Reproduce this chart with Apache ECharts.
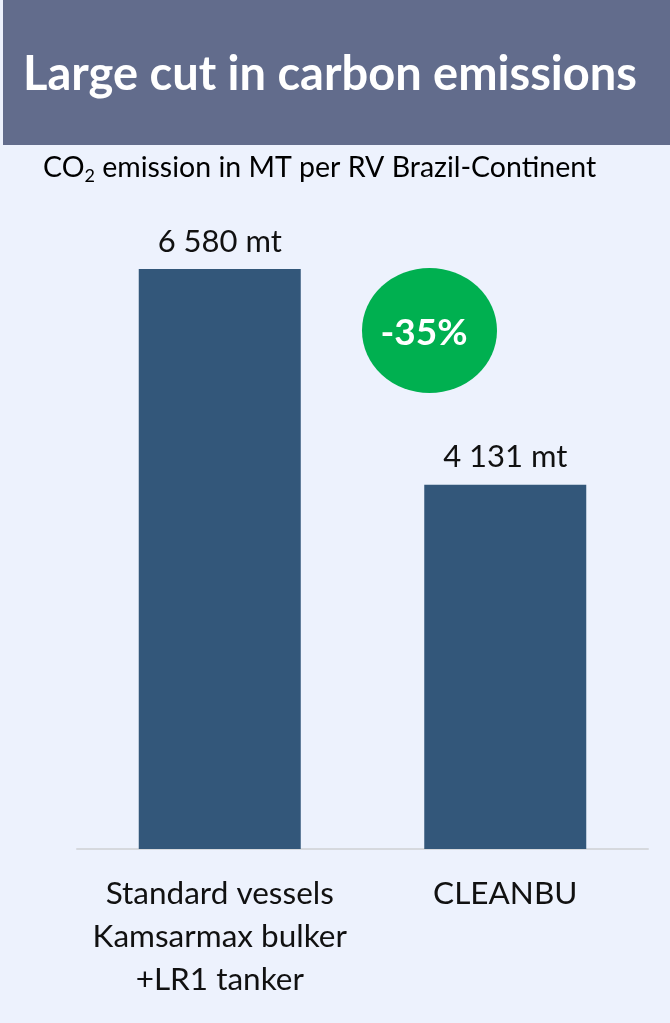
<!DOCTYPE html>
<html><head><meta charset="utf-8">
<script src="https://cdn.jsdelivr.net/npm/echarts@6/dist/echarts.min.js"></script>
<style>html,body{margin:0;padding:0;background:#edf2fd;}#c{width:670px;height:1023px;}</style>
</head><body><div id="c"></div>
<script>
const categories = ['Standard vessels\nKamsarmax bulker\n+LR1 tanker', 'CLEANBU'];
const emissions = [6580, 4131];
const reductionLabel = '-35%';
const titleText = 'Large cut in carbon emissions';

const FONT = 'Lato, "Open Sans", sans-serif';
const chart = echarts.init(document.getElementById('c'));
chart.setOption({
  backgroundColor: '#edf2fd',
  animation: false,
  graphic: [
    { type: 'rect', left: 3, top: 0, shape: { width: 667, height: 145 }, style: { fill: '#626c8c' } },
    { type: 'text', x: 330, y: 75, style: { text: titleText, fill: '#ffffff', font: 'bold 47px ' + FONT, textAlign: 'center', textVerticalAlign: 'middle' } },
    { type: 'text', x: 43, y: 168, style: {
        text: '{a|CO}{s|2}{a| emission in MT per RV Brazil-Continent}',
        textVerticalAlign: 'middle',
        rich: {
          a: { fontSize: 28.5, fontFamily: FONT, color: '#1a1a1a' },
          s: { fontSize: 18, fontFamily: FONT, color: '#1a1a1a', padding: [16, 0, 0, 0] }
        } } },
    { type: 'circle', x: 429.5, y: 330.5, scaleY: 125 / 135, shape: { cx: 0, cy: 0, r: 67.5 }, style: { fill: '#00b050' } },
    { type: 'text', x: 424, y: 333, style: { text: reductionLabel, fill: '#ffffff', font: 'bold 37px ' + FONT, textAlign: 'center', textVerticalAlign: 'middle' } }
  ],
  grid: { left: 77, right: 22, top: 269, bottom: 174 },
  xAxis: {
    type: 'category', data: categories,
    axisLine: { lineStyle: { color: '#d6d9de', width: 2 } },
    axisTick: { show: false },
    axisLabel: { fontSize: 31.5, fontFamily: FONT, color: '#111', lineHeight: 43, margin: 23, interval: 0 }
  },
  yAxis: { type: 'value', min: 0, max: 6580, show: false, splitLine: { show: false } },
  series: [{
    type: 'bar', data: emissions, barWidth: 162,
    itemStyle: { color: '#33577a' },
    label: {
      show: true, position: 'top', distance: 12, fontSize: 31, fontFamily: FONT, color: '#111',
      formatter: p => String(p.value).replace(/\B(?=(\d{3})+(?!\d))/g, ' ') + ' mt'
    }
  }]
});
</script></body></html>
